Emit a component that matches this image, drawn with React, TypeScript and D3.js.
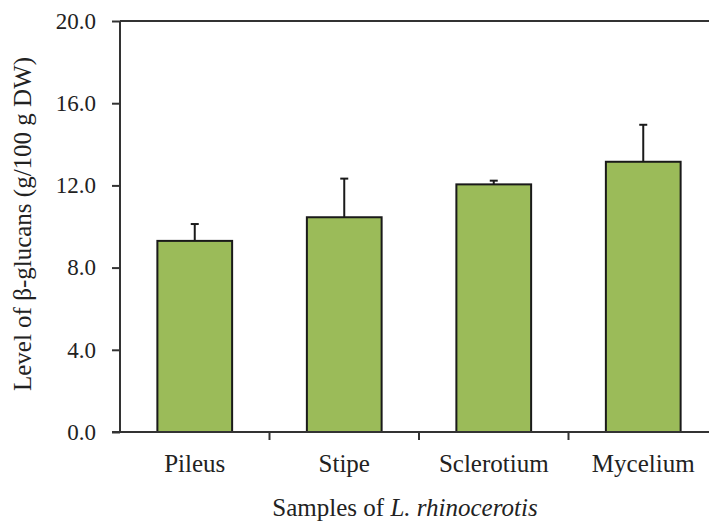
import React, { useEffect, useRef } from "react";
import * as d3 from "d3";

const categories = ["Pileus", "Stipe", "Sclerotium", "Mycelium"];
const means = [9.3, 10.45, 12.05, 13.15];
const errors = [0.82, 1.88, 0.18, 1.8];
const yTicks = [0, 4, 8, 12, 16, 20];

const App: React.FC = () => {
  const svgRef = useRef<SVGSVGElement | null>(null);

  useEffect(() => {
    if (!svgRef.current) return;
    const svg = d3.select(svgRef.current);
    svg.selectAll("*").remove();

    const left = 120;
    const right = 718;
    const top = 21;
    const bottom = 432;
    const font = "'Liberation Serif', 'Times New Roman', serif";

    const x = d3
      .scaleBand<string>()
      .domain(categories)
      .range([left, right])
      .paddingInner(0.5)
      .paddingOuter(0.25);
    const y = d3.scaleLinear().domain([0, 20]).range([bottom, top]);
    const step = x.step();

    const data = categories.map((c, i) => ({ c, v: means[i], e: errors[i] }));

    // bars
    svg
      .selectAll(".bar")
      .data(data)
      .enter()
      .append("rect")
      .attr("class", "bar")
      .attr("x", (d) => x(d.c)!)
      .attr("y", (d) => y(d.v))
      .attr("width", x.bandwidth())
      .attr("height", (d) => y(0) - y(d.v))
      .attr("fill", "#9BBB59")
      .attr("stroke", "#1a1a1a")
      .attr("stroke-width", 2);

    // error bars (upper only)
    const eb = svg.selectAll(".err").data(data).enter().append("g").attr("class", "err");
    eb.append("line")
      .attr("x1", (d) => x(d.c)! + x.bandwidth() / 2)
      .attr("x2", (d) => x(d.c)! + x.bandwidth() / 2)
      .attr("y1", (d) => y(d.v))
      .attr("y2", (d) => y(d.v + d.e))
      .attr("stroke", "#1a1a1a")
      .attr("stroke-width", 2);
    eb.append("line")
      .attr("x1", (d) => x(d.c)! + x.bandwidth() / 2 - 4)
      .attr("x2", (d) => x(d.c)! + x.bandwidth() / 2 + 4)
      .attr("y1", (d) => y(d.v + d.e))
      .attr("y2", (d) => y(d.v + d.e))
      .attr("stroke", "#1a1a1a")
      .attr("stroke-width", 2);

    // frame: top line
    svg
      .append("line")
      .attr("x1", left)
      .attr("x2", right)
      .attr("y1", top)
      .attr("y2", top)
      .attr("stroke", "#333")
      .attr("stroke-width", 2);

    // y axis
    const yAxis = svg
      .append("g")
      .attr("transform", `translate(${left},0)`)
      .call(
        d3
          .axisLeft(y)
          .tickValues(yTicks)
          .tickSize(8)
          .tickPadding(16)
          .tickFormat((d) => d3.format(".1f")(d as number))
      );
    yAxis.select(".domain").attr("stroke", "#333").attr("stroke-width", 2).attr("d", `M0,${top}V${bottom}`);
    yAxis.selectAll(".tick line").attr("stroke", "#333").attr("stroke-width", 2);
    yAxis
      .selectAll(".tick text")
      .attr("fill", "#222")
      .style("font-family", font)
      .style("font-size", "23px");

    // x axis
    const xAxis = svg.append("g").attr("transform", `translate(0,${bottom})`);
    xAxis
      .append("line")
      .attr("x1", left - 8)
      .attr("x2", right)
      .attr("stroke", "#333")
      .attr("stroke-width", 2);
    xAxis
      .selectAll(".xt")
      .data(categories.slice(1))
      .enter()
      .append("line")
      .attr("x1", (d) => x(d)! - (step - x.bandwidth()) / 2)
      .attr("x2", (d) => x(d)! - (step - x.bandwidth()) / 2)
      .attr("y1", 0)
      .attr("y2", 8)
      .attr("stroke", "#333")
      .attr("stroke-width", 2);
    xAxis
      .selectAll(".xl")
      .data(categories)
      .enter()
      .append("text")
      .attr("x", (d) => x(d)! + x.bandwidth() / 2)
      .attr("y", 40)
      .attr("text-anchor", "middle")
      .attr("fill", "#222")
      .style("font-family", font)
      .style("font-size", "25px")
      .text((d) => d);

    // axis titles
    const xt = svg
      .append("text")
      .attr("x", 405)
      .attr("y", 516)
      .attr("text-anchor", "middle")
      .attr("fill", "#222")
      .style("font-family", font)
      .style("font-size", "25px");
    xt.append("tspan").text("Samples of ");
    xt.append("tspan").style("font-style", "italic").text("L. rhinocerotis");

    svg
      .append("text")
      .attr("transform", `translate(31,224) rotate(-90)`)
      .attr("text-anchor", "middle")
      .attr("fill", "#222")
      .style("font-family", font)
      .style("font-size", "25px")
      .text("Level of β-glucans (g/100 g DW)");
  }, []);

  return (
    <svg
      ref={svgRef}
      width={709}
      height={527}
      style={{ position: "absolute", left: 0, top: 0, background: "#fff" }}
    />
  );
};

export default App;
